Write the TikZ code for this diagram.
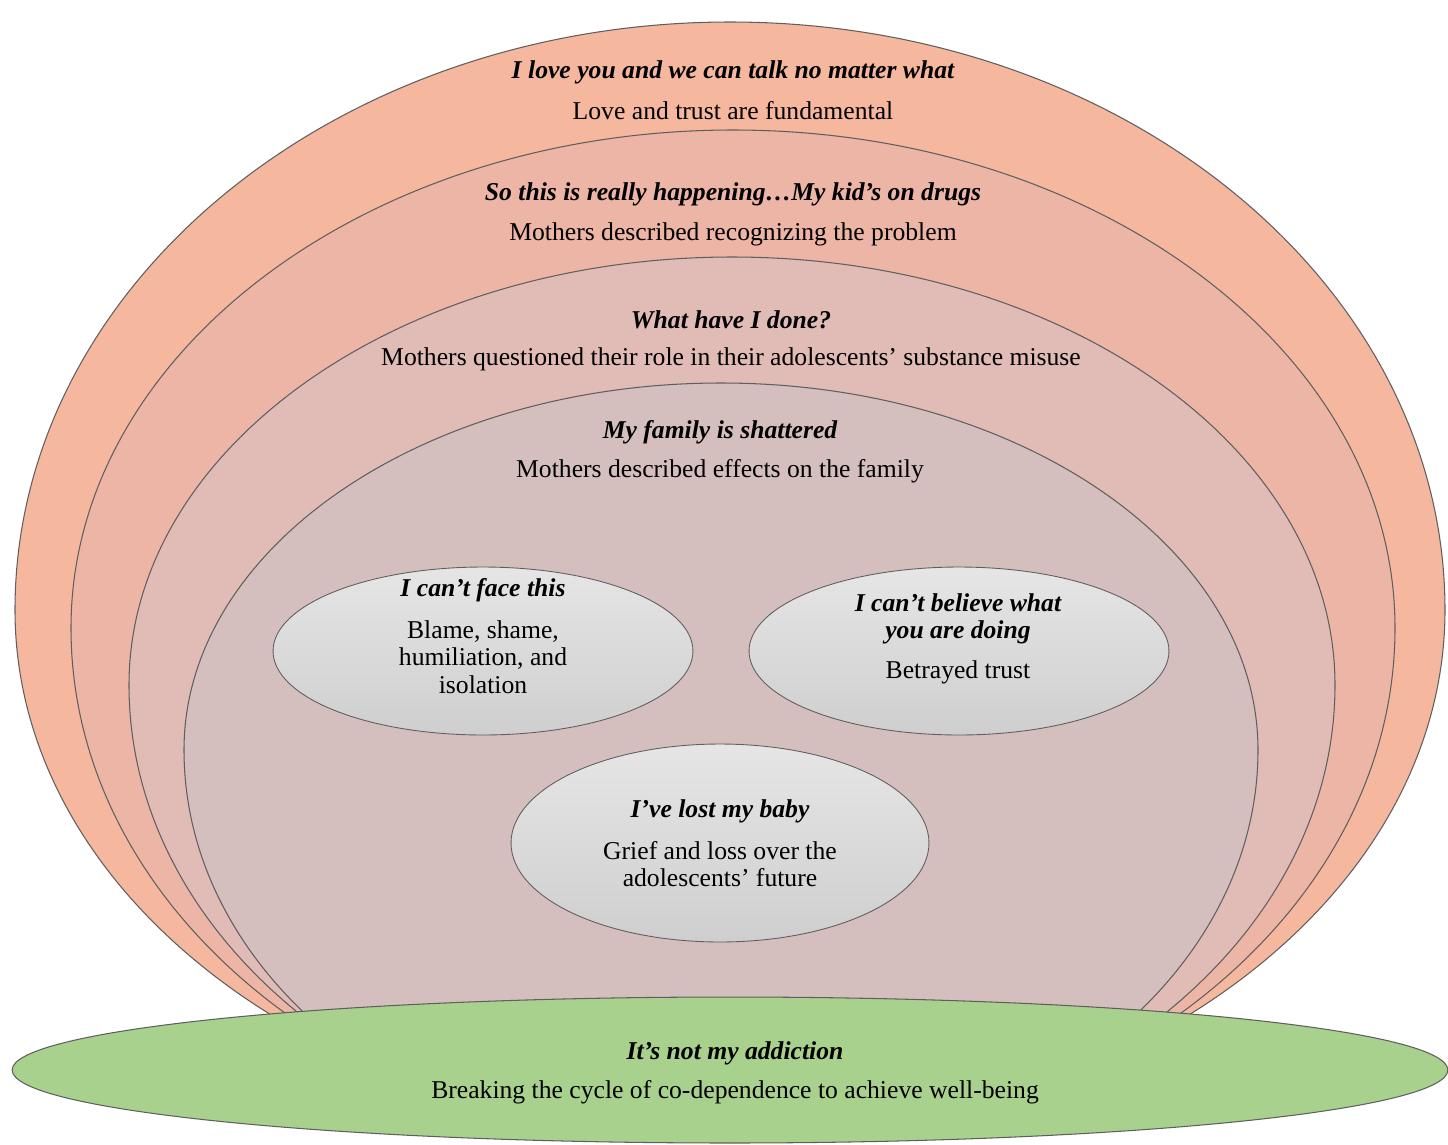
\documentclass[tikz,border=0pt]{standalone}
\usepackage{fontspec}
\setmainfont{Liberation Serif}
\usepackage{tikz}
\usetikzlibrary{positioning,shapes.geometric}

\definecolor{layerA}{RGB}{245,183,158}
\definecolor{layerB}{RGB}{236,181,166}
\definecolor{layerC}{RGB}{225,187,182}
\definecolor{layerD}{RGB}{213,190,190}
\definecolor{baseGreen}{RGB}{169,209,142}
\definecolor{rim}{RGB}{95,95,95}

\tikzset{
  theme/.style={font=\fontsize{14.6}{15.6}\selectfont\bfseries\itshape, align=center, inner sep=0pt},
  gloss/.style={font=\fontsize{14.6}{15.6}\selectfont, align=center, inner sep=0pt},
  bubble/.style={ellipse, draw=rim, line width=0.5pt, top color=gray!20, bottom color=gray!38,
    minimum width=8.4cm, minimum height=3.36cm},
}

% egg shaped layer: fill, cx, cy, rx, top radius, bottom radius
\newcommand{\layeregg}[6]{%
  \filldraw[fill=#1, draw=rim, line width=0.6pt] (#2+#4,#3)
    arc[start angle=0, end angle=-180, x radius=#4, y radius=#5]
    arc[start angle=180, end angle=0, x radius=#4, y radius=#6] -- cycle;}

\begin{document}
\begin{tikzpicture}[x=0.02cm,y=-0.02cm]
		\useasboundingbox (0,0) rectangle (1448,1144);
		% nested layers
		\begin{scope}
			\clip (0,0) rectangle (1448,1070);
			\layeregg{layerA}{730}{610}{715}{588}{528}
			\layeregg{layerB}{733}{628}{662}{498}{523}
			\layeregg{layerC}{732}{685}{603}{428}{472}
			\layeregg{layerD}{721}{750}{537}{367}{417}
		\end{scope}
		\node[theme] (loveT) at (733,72) {I love you and we can talk no matter what};
		\node[gloss] (loveB) at (733,111) {Love and trust are fundamental};
		\node[theme] (drugsT) at (733,194) {So this is really happening…My kid’s on drugs};
		\node[gloss] (drugsB) at (733,234) {Mothers described recognizing the problem};
		\node[theme] (doneT) at (731,320) {What have I done?};
		\node[gloss] (doneB) at (731,359) {Mothers questioned their role in their adolescents’ substance misuse};
		\node[theme] (familyT) at (720,432) {My family is shattered};
		\node[gloss] (familyB) at (720,471) {Mothers described effects on the family};
		% inner bubbles
		\node[bubble] (face) at (483,651) {};
		\node[bubble] (believe) at (959,651) {};
		\node[bubble, minimum width=8.36cm, minimum height=3.96cm] (baby) at (720,843) {};
		\node[theme] (faceT) at (483,590) {I can’t face this};
		\node[gloss] (faceB) at (483,657) {Blame, shame,\\humiliation, and\\isolation};
		\node[theme] (believeT) at (958,619) {I can’t believe what\\you are doing};
		\node[gloss] (believeB) at (958,672) {Betrayed trust};
		\node[theme] (babyT) at (720,811) {I’ve lost my baby};
		\node[gloss] (babyB) at (720,864) {Grief and loss over the\\adolescents’ future};
		% base
		\node[ellipse, draw=rim, line width=0.6pt, fill=baseGreen, minimum width=28.72cm, minimum height=2.92cm] (base) at (730,1070) {};
		\node[theme] (baseT) at (735,1053) {It’s not my addiction};
		\node[gloss] (baseB) at (735,1092) {Breaking the cycle of co-dependence to achieve well-being};
	\end{tikzpicture}
\end{document}
